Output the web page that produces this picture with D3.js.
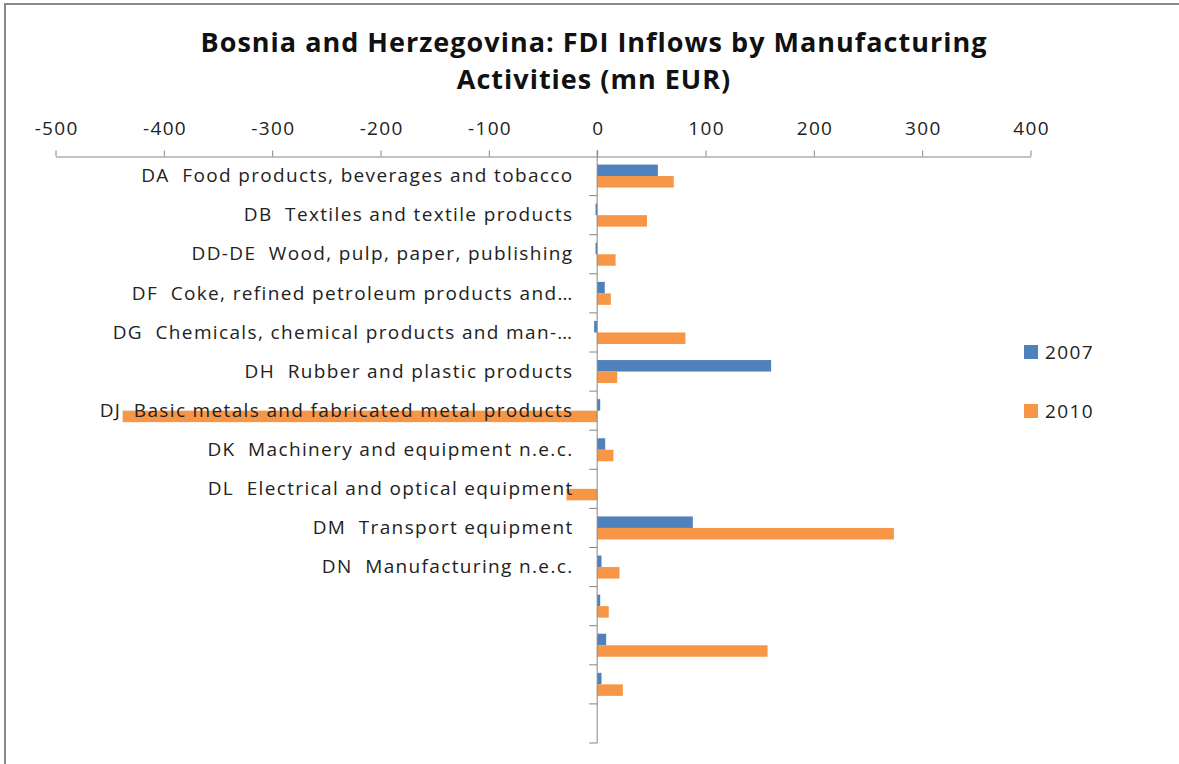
<!DOCTYPE html>
<html>
<head>
<meta charset="utf-8">
<script src="https://cdn.jsdelivr.net/npm/d3@7"></script>
<style>
  html, body { margin: 0; padding: 0; background: #fff; }
  svg { display: block; }
</style>
</head>
<body>
<svg id="chart" width="1179" height="764"></svg>
<script>
const titleLines = ["Bosnia and Herzegovina: FDI Inflows by Manufacturing", "Activities (mn EUR)"];
const categories = [
  "DA  Food products, beverages and tobacco",
  "DB  Textiles and textile products",
  "DD-DE  Wood, pulp, paper, publishing",
  "DF  Coke, refined petroleum products and\u2026",
  "DG  Chemicals, chemical products and man-\u2026",
  "DH  Rubber and plastic products",
  "DJ  Basic metals and fabricated metal products",
  "DK  Machinery and equipment n.e.c.",
  "DL  Electrical and optical equipment",
  "DM  Transport equipment",
  "DN  Manufacturing n.e.c.",
  "", "", "", ""
];
const seriesNames = ["2007", "2010"];
const values2007 = [56, -1.5, -1.5, 7, -2.8, 160.6, 2.8, 7.4, 0, 88.3, 4, 2.8, 8.3, 4, null];
const values2010 = [70.7, 46, 17, 12.6, 81.5, 18.5, -438, 15, -28.3, 273.9, 20.6, 10.7, 157.3, 23.7, null];
const xTicks = [-500, -400, -300, -200, -100, 0, 100, 200, 300, 400];
const colors = ["#4F81BD", "#F79646"];

const svg = d3.select("#chart");
const font = "'Open Sans', sans-serif";
const LS = 1.35;

// chart frame
svg.append("line").attr("x1", 5).attr("x2", 1179).attr("y1", 4).attr("y2", 4)
  .attr("stroke", "#8a8a8a").attr("stroke-width", 2);
svg.append("line").attr("x1", 5).attr("x2", 5).attr("y1", 3).attr("y2", 764)
  .attr("stroke", "#8a8a8a").attr("stroke-width", 2);

// title
const title = svg.append("text").attr("x", 594).attr("y", 52)
  .attr("text-anchor", "middle").attr("font-family", font)
  .attr("font-weight", "bold").attr("font-size", 27).attr("fill", "#111")
  .attr("letter-spacing", 1);
title.selectAll("tspan").data(titleLines).join("tspan")
  .attr("x", 594).attr("dy", (d, i) => i === 0 ? 0 : 37).text(d => d);

const x = d3.scaleLinear().domain([-500, 400]).range([55.5, 1030.5]);
const y = d3.scaleBand().domain(d3.range(categories.length)).range([156.5, 743]).padding(0);
const yInner = d3.scaleBand().domain(seriesNames).range([0, y.bandwidth()]).paddingInner(0).paddingOuter(0.7);

// value axis (top)
const xAxis = svg.append("g").attr("transform", "translate(0,156.5)")
  .call(d3.axisTop(x).tickValues(xTicks).tickSize(6).tickPadding(16).tickSizeOuter(0).tickFormat(d => String(d)));
xAxis.select(".domain").attr("stroke", "#868686");
xAxis.selectAll(".tick line").attr("stroke", "#868686");
xAxis.selectAll("text").attr("font-family", font).attr("font-size", 19).attr("fill", "#222")
  .attr("letter-spacing", LS).attr("dx", LS / 2);

// bars
const rows = categories.map((c, i) => ({i, v: [values2007[i], values2010[i]]}));
const g = svg.append("g");
seriesNames.forEach((s, si) => {
  g.selectAll(".bar" + si).data(rows.filter(r => r.v[si] != null)).join("rect")
    .attr("x", r => x(Math.min(0, r.v[si])))
    .attr("width", r => Math.abs(x(r.v[si]) - x(0)))
    .attr("y", r => y(r.i) + yInner(s))
    .attr("height", yInner.bandwidth())
    .attr("fill", colors[si]);
});

// category axis (vertical at zero)
const cat = svg.append("g");
cat.append("line").attr("x1", x(0)).attr("x2", x(0)).attr("y1", 150).attr("y2", 743)
  .attr("stroke", "#868686");
const boundaries = d3.range(categories.length + 1).map(i => i < categories.length ? y(i) : y(categories.length - 1) + y.bandwidth());
cat.selectAll(".ctick").data(boundaries.slice(1)).join("line")
  .attr("x1", x(0) - 8).attr("x2", x(0)).attr("y1", d => d).attr("y2", d => d)
  .attr("stroke", "#868686");
cat.selectAll(".clabel").data(categories).join("text")
  .attr("x", x(0) - 25 + LS).attr("y", (d, i) => y(i) + y.bandwidth() / 2 - 0.5)
  .attr("dy", "0.35em").attr("text-anchor", "end")
  .attr("font-family", font).attr("font-size", 19).attr("fill", "#222")
  .attr("letter-spacing", LS)
  .style("white-space", "pre")
  .text(d => d);

// legend
const legY = [352, 411];
const leg = svg.append("g");
seriesNames.forEach((s, i) => {
  leg.append("rect").attr("x", 1024).attr("y", legY[i] - 7).attr("width", 14).attr("height", 14).attr("fill", colors[i]);
  leg.append("text").attr("x", 1045).attr("y", legY[i]).attr("dy", "0.35em")
    .attr("font-family", font).attr("font-size", 19).attr("fill", "#222")
    .attr("letter-spacing", LS).text(s);
});
</script>
</body>
</html>
